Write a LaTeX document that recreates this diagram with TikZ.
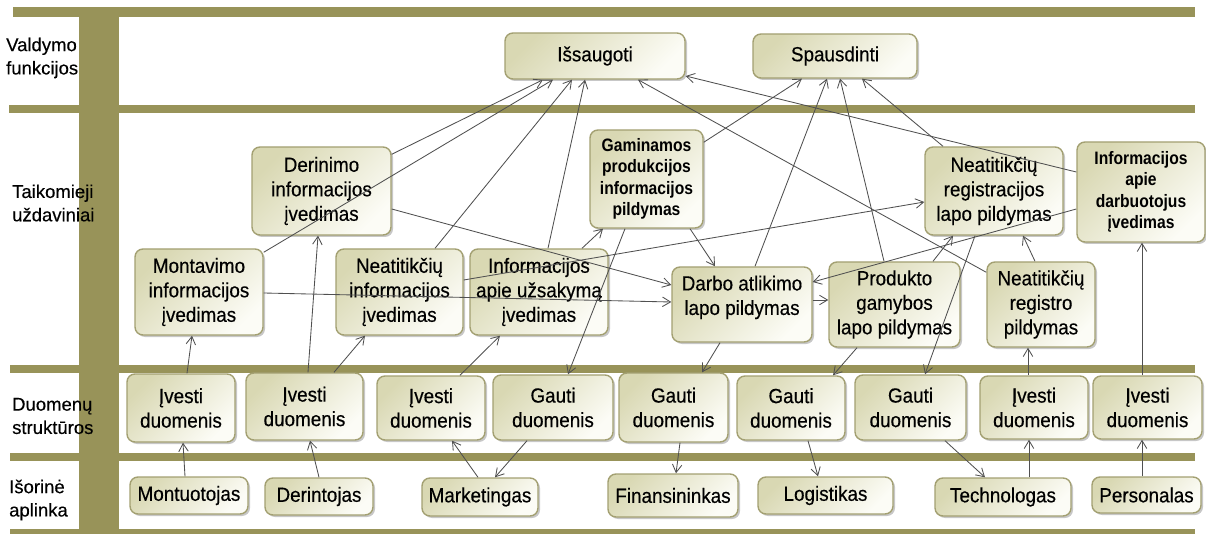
\documentclass[tikz,border=0pt]{standalone}
\usepackage{fontspec}
\setmainfont{Liberation Sans}
\newfontfamily\boxfont{Liberation Sans}[FakeStretch=0.92, FakeBold=0.35]
\newfontfamily\boldboxfont{Liberation Sans Bold}[FakeStretch=0.87]
\newfontfamily\lanefont{Liberation Sans}[FakeBold=0.3]
\usetikzlibrary{arrows.meta,shadows}

\definecolor{barolive}{RGB}{152,147,89}
\definecolor{boxdraw}{RGB}{163,160,114}
\definecolor{boxdark}{RGB}{217,216,179}
\definecolor{boxlight}{RGB}{252,252,246}
\definecolor{wirecol}{RGB}{80,80,80}

\begin{document}
\begin{tikzpicture}[x=1pt,y=-1pt,
  lanebar/.style={fill=barolive},
  lanelabel/.style={anchor=west, align=left, inner sep=0pt,
    font=\lanefont\fontsize{18.5}{23.3}\selectfont},
  taskbox/.style={draw=boxdraw, line width=1.4pt, rounded corners=8pt,
    left color=boxdark, right color=boxlight, shading angle=45,
    drop shadow={shadow xshift=2pt, shadow yshift=-2pt, fill=black, opacity=0.22},
    align=center, inner sep=2pt,
    font=\boxfont\fontsize{20.5}{24.5}\selectfont},
  smallbox/.style={taskbox, font=\boldboxfont\fontsize{18}{21.5}\selectfont},
  conn/.style={draw=wirecol, line width=0.85pt, -{Straight Barb[length=8pt,width=9.5pt]}}
]
\useasboundingbox (0,0) rectangle (1206,534);

% swim lane frame
\fill[lanebar] (13,7) rectangle (1195,17);
\fill[lanebar] (9,105) rectangle (1195,113);
\fill[lanebar] (10,365) rectangle (1195,373);
\fill[lanebar] (10,453) rectangle (1195,461);
\fill[lanebar] (10,529) rectangle (1195,534);
\fill[lanebar] (79,17) rectangle (119,534);

% lane titles
\node[lanelabel] (l1) at (6,58) {Valdymo\\funkcijos};
\node[lanelabel] (l2) at (12,203) {Taikomieji\\uždaviniai};
\node[lanelabel] (l3) at (12,416) {Duomenų\\struktūros};
\node[lanelabel] (l4) at (9,500) {Išorinė\\aplinka};

% control functions
\node[taskbox, minimum width=180, minimum height=46] (save) at (595,56) {Išsaugoti};
\node[taskbox, minimum width=164, minimum height=44] (print) at (835,56) {Spausdinti};

% application tasks
\node[taskbox, minimum width=139, minimum height=88] (derinimo) at (321.5,191) {Derinimo\\informacijos\\įvedimas};
\node[taskbox, minimum width=128, minimum height=86] (montavimo) at (199,292) {Montavimo\\informacijos\\įvedimas};
\node[taskbox, minimum width=127, minimum height=86] (neatinfo) at (399.5,292) {Neatitikčių\\informacijos\\įvedimas};
\node[taskbox, minimum width=138, minimum height=86] (infouzs) at (539,292) {Informacijos\\apie užsakymą\\įvedimas};
\node[smallbox, minimum width=113, minimum height=98] (gamin) at (646.5,179) {Gaminamos\\produkcijos\\informacijos\\pildymas};
\node[taskbox, minimum width=140, minimum height=75] (darbo) at (742,304.5) {Darbo atlikimo\\lapo pildymas\\[-6pt]\mbox{}};
\node[taskbox, minimum width=131, minimum height=85] (produkto) at (894.5,304.5) {Produkto\\gamybos\\lapo pildymas};
\node[taskbox, minimum width=138, minimum height=88] (neatreg) at (994,191) {Neatitikčių\\registracijos\\lapo pildymas};
\node[smallbox, minimum width=128, minimum height=100] (infodarb) at (1141,192) {Informacijos\\apie\\darbuotojus\\įvedimas};
\node[taskbox, minimum width=108, minimum height=85] (neatregistro) at (1041,304.5) {Neatitikčių\\registro\\pildymas};

% data structures
\node[taskbox, minimum width=108, minimum height=68] (iv1) at (181,408) {Įvesti\\duomenis};
\node[taskbox, minimum width=117, minimum height=67] (iv2) at (304.5,406.5) {Įvesti\\duomenis};
\node[taskbox, minimum width=108, minimum height=64] (iv3) at (431,408) {Įvesti\\duomenis};
\node[taskbox, minimum width=120, minimum height=65] (ga1) at (553,407.5) {Gauti\\duomenis};
\node[taskbox, minimum width=109, minimum height=69] (ga2) at (673.5,407.5) {Gauti\\duomenis};
\node[taskbox, minimum width=108, minimum height=64] (ga3) at (791,408) {Gauti\\duomenis};
\node[taskbox, minimum width=111, minimum height=65] (ga4) at (910.5,407.5) {Gauti\\duomenis};
\node[taskbox, minimum width=108, minimum height=63] (iv4) at (1034,407.5) {Įvesti\\duomenis};
\node[taskbox, minimum width=109, minimum height=63] (iv5) at (1147.5,407.5) {Įvesti\\duomenis};

% external environment
\node[taskbox, minimum width=118, minimum height=37] (montuot) at (189,495.5) {Montuotojas};
\node[taskbox, minimum width=108, minimum height=37] (derint) at (319,496.5) {Derintojas};
\node[taskbox, minimum width=116, minimum height=38] (market) at (480,497) {Marketingas};
\node[taskbox, minimum width=130, minimum height=43] (finans) at (673,495.5) {Finansininkas};
\node[taskbox, minimum width=135, minimum height=37] (logist) at (825.5,495.5) {Logistikas};
\node[taskbox, minimum width=136, minimum height=38] (technol) at (1003,497) {Technologas};
\node[taskbox, minimum width=109, minimum height=36] (personal) at (1146.5,495) {Personalas};

% external environment <-> data structures
\draw[conn] ([xshift=-4pt]montuot.north) -- ([xshift=2pt]iv1.south);
\draw[conn] (derint.north) -- ([xshift=5.5pt]iv2.south);
\draw[conn] ([xshift=-2pt]market.north) -- ([xshift=21pt]iv3.south);
\draw[conn] ([xshift=-26pt]ga1.south) -- ([xshift=15pt]market.north);
\draw[conn] ([xshift=6.5pt]ga2.south) -- ([xshift=3pt]finans.north);
\draw[conn] ([xshift=17pt]ga3.south) -- ([xshift=-7.5pt]logist.north);
\draw[conn] ([xshift=34.5pt]ga4.south) -- ([xshift=-18pt]technol.north);
\draw[conn] ([xshift=26pt]technol.north) -- ([xshift=-5pt]iv4.south);
\draw[conn] ([xshift=-4.5pt]personal.north) -- ([xshift=-5.5pt]iv5.south);

% data structures <-> application tasks
\draw[conn] ([xshift=6pt]iv1.north) -- ([xshift=-7pt]montavimo.south);
\draw[conn] ([xshift=3.5pt]iv2.north) -- ([xshift=-3.5pt]derinimo.south);
\draw[conn] ([xshift=29.5pt]iv2.north) -- ([xshift=-34.5pt]neatinfo.south);
\draw[conn] ([xshift=29pt]iv3.north) -- ([xshift=-39pt]infouzs.south);
\draw[conn] ([xshift=-21.5pt]gamin.south) -- ([xshift=15pt]ga1.north);
\draw[conn] ([xshift=-22pt]darbo.south) -- ([xshift=28.5pt]ga2.north);
\draw[conn] ([xshift=-37.5pt]produkto.south) -- ([xshift=42pt]ga3.north);
\draw[conn] ([xshift=-19pt]neatreg.south) -- ([xshift=14.5pt]ga4.north);
\draw[conn] ([xshift=-6pt]iv4.north) -- ([xshift=-13pt]neatregistro.south);
\draw[conn] ([xshift=-5.5pt]iv5.north) -- ([xshift=1pt]infodarb.south);

% application tasks -> control functions
\draw[conn] ([yshift=-4pt]montavimo.north east) -- ([xshift=-42pt]save.south);
\draw[conn] ([yshift=-8pt]derinimo.north east) -- ([xshift=-52pt]save.south);
\draw[conn] ([xshift=35.5pt]neatinfo.north) -- ([xshift=-23pt]save.south);
\draw[conn] ([xshift=9pt]infouzs.north) -- ([xshift=-10pt]save.south);
\draw[conn] ([yshift=-13pt]gamin.north east) -- ([xshift=-33pt]print.south);
\draw[conn] ([xshift=13pt]darbo.north) -- ([xshift=-8pt]print.south);
\draw[conn] ([xshift=-10.5pt]produkto.north) -- ([xshift=5pt]print.south);
\draw[conn] ([xshift=-51pt]neatreg.north) -- ([xshift=27pt]print.south);
\draw[conn] ([yshift=-11pt]neatregistro.north west) -- ([xshift=43pt]save.south);
\draw[conn] ([yshift=20pt]infodarb.west) -- ([yshift=-20pt]save.east);

% links between application tasks
\draw[conn] ([yshift=-17pt]infodarb.west) -- ([yshift=22.5pt]darbo.east);
\draw[conn] ([yshift=-18pt]derinimo.east) -- ([yshift=19.5pt]darbo.west);
\draw[conn] ([yshift=-1pt]montavimo.east) -- ([yshift=2.5pt]darbo.west);
\draw[conn] ([yshift=12pt]neatinfo.east) -- ([yshift=-11pt]neatreg.west);
\draw[conn] ([xshift=43pt]infouzs.north) -- ([xshift=-43.5pt]gamin.south);
\draw[conn] ([xshift=43.5pt]gamin.south) -- ([xshift=-27pt]darbo.north);
\draw[conn] ([yshift=4.5pt]darbo.east) -- ([yshift=4.5pt]produkto.west);
\draw[conn] ([xshift=38.5pt]produkto.north) -- ([xshift=-41pt]neatreg.south);
\draw[conn] ([xshift=-6pt]neatregistro.north) -- ([xshift=29pt]neatreg.south);
\end{tikzpicture}
\end{document}
